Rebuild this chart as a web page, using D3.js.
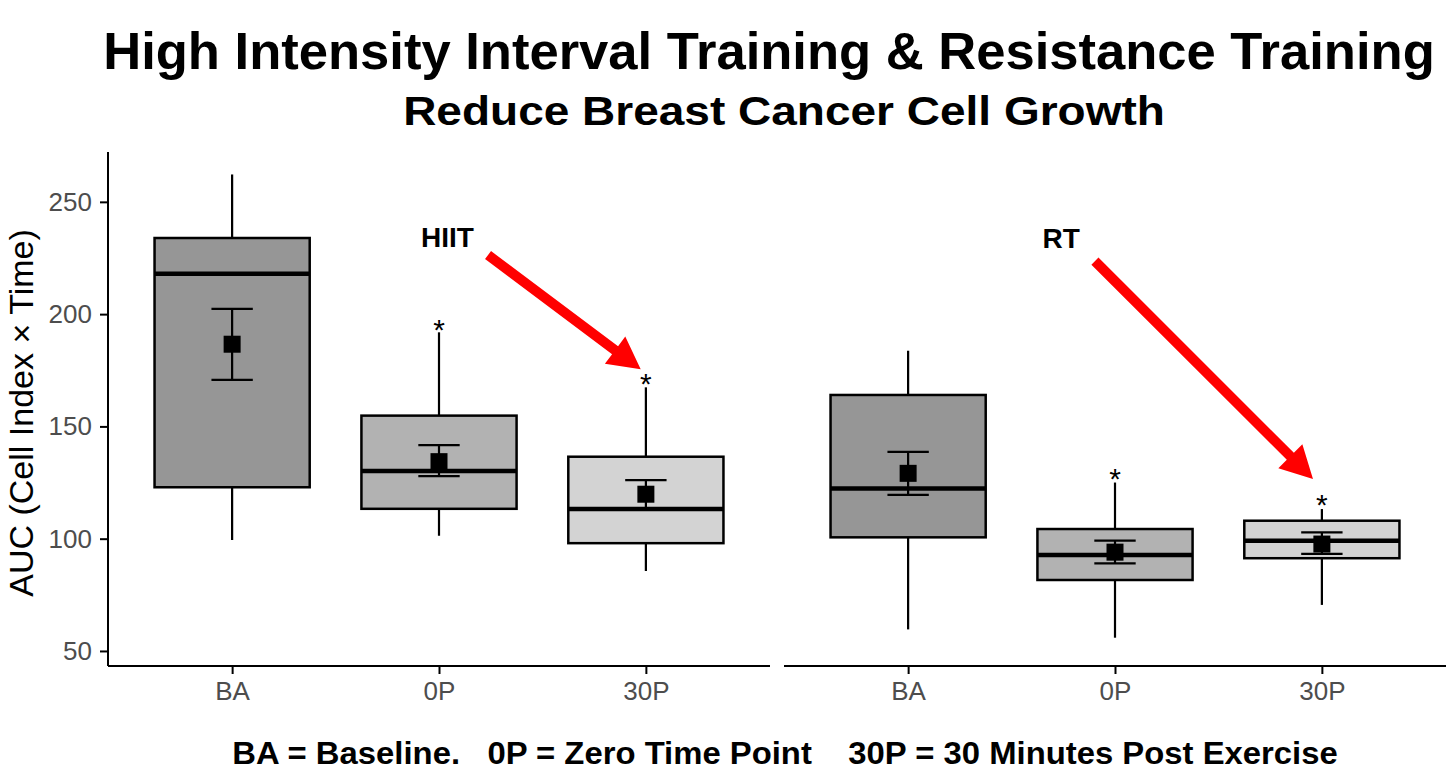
<!DOCTYPE html>
<html>
<head>
<meta charset="utf-8">
<script src="https://d3js.org/d3.v7.min.js"></script>
<style>
  body { margin: 0; background: #fff; }
  text { font-family: "Liberation Sans", Arial, Helvetica, sans-serif; }
</style>
</head>
<body>
<div id="chart"></div>
<script>
// groups (panels) and time points
var groups = ["HIIT", "RT"];
var timepoints = ["BA", "0P", "30P"];

// box plot summaries, one row per group
var whiskerLow  = [[99.4, 101.3, 85.6], [59.6, 55.9, 70.5]];
var q1          = [[122.9, 113.3, 98.0], [100.6, 81.6, 91.3]];
var median      = [[218.0, 130.1, 113.2], [122.4, 92.7, 99.1]];
var q3          = [[233.9, 154.8, 136.5], [164.0, 104.3, 108.0]];
var whiskerHigh = [[262.2, 191.9, 167.4], [183.7, 125.0, 113.2]];

// mean and error bar
var meanVal = [[186.6, 134.3, 119.8], [129.1, 94.0, 97.6]];
var errLow  = [[170.7, 127.9, 113.5], [119.5, 89.0, 93.2]];
var errHigh = [[202.3, 141.7, 126.1], [138.7, 99.1, 102.8]];

// significance stars (value where the star sits)
var starAt = [[null, 196.0, 172.0], [null, 129.7, 118.1]];

var yTicks = [50, 100, 150, 200, 250];

// annotation arrows, in category units / data values
var arrowTail = [[2.237, 226.3], [1.903, 223.6]];
var arrowTip  = [[2.975, 175.4], [2.957, 126.6]];
var labelAt   = [[1.913, 229.9], [1.650, 229.4]];

var fills = ["#969696", "#b2b2b2", "#d3d3d3"];

var W = 1456, H = 784;
var panelX = [[108, 770], [784, 1446]];
var yTop = 152, yBottom = 666;

var svg = d3.select("#chart").append("svg")
            .attr("width", W)
            .attr("height", H);

var y = d3.scaleLinear().domain([43.3, 272.2]).range([yBottom, yTop]);

// titles: keep the height of the letters, squeeze them to the width they take in the picture
function fitText(t, cx, width) {
  var w = t.node().getComputedTextLength();
  var sx = width / w;
  t.attr("transform", "translate(" + cx + ",0) scale(" + sx + ",1) translate(" + (-cx) + ",0)");
}

var t1 = svg.append("text")
  .attr("x", 769).attr("y", 69)
  .attr("text-anchor", "middle")
  .style("font-weight", "bold").style("font-size", "52px")
  .text("High Intensity Interval Training & Resistance Training");
fitText(t1, 769, 1332);

var t2 = svg.append("text")
  .attr("x", 784).attr("y", 125)
  .attr("text-anchor", "middle")
  .style("font-weight", "bold").style("font-size", "41px")
  .text("Reduce Breast Cancer Cell Growth");
fitText(t2, 784, 762);

var t3 = svg.append("text")
  .attr("x", 785).attr("y", 764)
  .attr("text-anchor", "middle")
  .style("font-weight", "bold").style("font-size", "31px")
  .style("white-space", "pre")
  .text("BA = Baseline.   0P = Zero Time Point    30P = 30 Minutes Post Exercise");
fitText(t3, 785, 1106);

// y axis title
svg.append("text")
  .attr("transform", "translate(33,413) rotate(-90)")
  .attr("text-anchor", "middle")
  .style("font-size", "34px")
  .style("fill", "#000")
  .text("AUC (Cell Index \u00d7 Time)");

// y axis (left panel only)
var yAxis = svg.append("g")
  .attr("transform", "translate(" + panelX[0][0] + ",0)")
  .call(d3.axisLeft(y).tickValues(yTicks).tickSize(8).tickPadding(8));
yAxis.select(".domain").attr("d", "M0," + yTop + "V" + yBottom)
  .attr("stroke", "#000").attr("stroke-width", 2);
yAxis.selectAll(".tick line").attr("stroke", "#000").attr("stroke-width", 2);
yAxis.selectAll(".tick text")
  .style("font-size", "26px").style("fill", "#4d4d4d")
  .attr("font-family", null);

groups.forEach(function(g, gi) {
  var x0 = panelX[gi][0], x1 = panelX[gi][1];
  var xu = d3.scaleLinear().domain([0.4, 3.6]).range([x0, x1]);
  var xp = d3.scalePoint().domain(timepoints).range([x0, x1]).padding(0.6);
  var boxW = xu(0.75) - xu(0);
  var capW = xu(0.2) - xu(0);

  var xAxis = svg.append("g")
    .attr("transform", "translate(0," + yBottom + ")")
    .call(d3.axisBottom(xp).tickSize(8).tickPadding(8));
  xAxis.select(".domain").attr("d", "M" + x0 + ",0H" + x1)
    .attr("stroke", "#000").attr("stroke-width", 2);
  xAxis.selectAll(".tick line").attr("stroke", "#000").attr("stroke-width", 2);
  xAxis.selectAll(".tick text")
    .style("font-size", "26px").style("fill", "#4d4d4d")
    .attr("font-family", null);

  var rows = timepoints.map(function(tp, i) {
    return { tp: tp, i: i, lo: whiskerLow[gi][i], q1: q1[gi][i], med: median[gi][i],
             q3: q3[gi][i], hi: whiskerHigh[gi][i], mean: meanVal[gi][i],
             eLo: errLow[gi][i], eHi: errHigh[gi][i], star: starAt[gi][i] };
  });

  var panel = svg.append("g");
  var box = panel.selectAll("g.box").data(rows).enter().append("g").attr("class", "box");

  // whiskers
  box.append("line")
    .attr("x1", function(d) { return xp(d.tp); })
    .attr("x2", function(d) { return xp(d.tp); })
    .attr("y1", function(d) { return y(d.hi); })
    .attr("y2", function(d) { return y(d.q3); })
    .attr("stroke", "#000").attr("stroke-width", 2.2);
  box.append("line")
    .attr("x1", function(d) { return xp(d.tp); })
    .attr("x2", function(d) { return xp(d.tp); })
    .attr("y1", function(d) { return y(d.q1); })
    .attr("y2", function(d) { return y(d.lo); })
    .attr("stroke", "#000").attr("stroke-width", 2.2);

  // box
  box.append("rect")
    .attr("x", function(d) { return xp(d.tp) - boxW / 2; })
    .attr("width", boxW)
    .attr("y", function(d) { return y(d.q3); })
    .attr("height", function(d) { return y(d.q1) - y(d.q3); })
    .style("fill", function(d) { return fills[d.i]; })
    .attr("stroke", "#000").attr("stroke-width", 2.5);

  // median
  box.append("line")
    .attr("x1", function(d) { return xp(d.tp) - boxW / 2; })
    .attr("x2", function(d) { return xp(d.tp) + boxW / 2; })
    .attr("y1", function(d) { return y(d.med); })
    .attr("y2", function(d) { return y(d.med); })
    .attr("stroke", "#000").attr("stroke-width", 4.5);

  // error bar
  box.append("line")
    .attr("x1", function(d) { return xp(d.tp); })
    .attr("x2", function(d) { return xp(d.tp); })
    .attr("y1", function(d) { return y(d.eHi); })
    .attr("y2", function(d) { return y(d.eLo); })
    .attr("stroke", "#000").attr("stroke-width", 2.2);
  ["eHi", "eLo"].forEach(function(k) {
    box.append("line")
      .attr("x1", function(d) { return xp(d.tp) - capW / 2; })
      .attr("x2", function(d) { return xp(d.tp) + capW / 2; })
      .attr("y1", function(d) { return y(d[k]); })
      .attr("y2", function(d) { return y(d[k]); })
      .attr("stroke", "#000").attr("stroke-width", 2.2);
  });

  // mean square
  box.append("rect")
    .attr("x", function(d) { return xp(d.tp) - 8.5; })
    .attr("y", function(d) { return y(d.mean) - 8.5; })
    .attr("width", 17).attr("height", 17)
    .style("fill", "#000");

  // stars
  box.filter(function(d) { return d.star != null; })
    .append("text")
    .attr("x", function(d) { return xp(d.tp); })
    .attr("y", function(d) { return y(d.star) + 17; })
    .attr("text-anchor", "middle")
    .style("font-size", "30px")
    .text("*");

  // arrow
  var ax0 = xu(arrowTail[gi][0]), ay0 = y(arrowTail[gi][1]);
  var ax1 = xu(arrowTip[gi][0]), ay1 = y(arrowTip[gi][1]);
  var dx = ax1 - ax0, dy = ay1 - ay0, len = Math.sqrt(dx * dx + dy * dy);
  var ux = dx / len, uy = dy / len, nx = -uy, ny = ux;
  var headL = 32, headW = 17, shaftW = 5;
  var bx = ax1 - ux * headL, by = ay1 - uy * headL;
  var pts = [
    [ax0 + nx * shaftW, ay0 + ny * shaftW],
    [bx + nx * shaftW, by + ny * shaftW],
    [bx + nx * headW, by + ny * headW],
    [ax1, ay1],
    [bx - nx * headW, by - ny * headW],
    [bx - nx * shaftW, by - ny * shaftW],
    [ax0 - nx * shaftW, ay0 - ny * shaftW]
  ];
  panel.append("polygon")
    .attr("points", pts.map(function(p) { return p.join(","); }).join(" "))
    .style("fill", "#ff0000");

  panel.append("text")
    .attr("x", xu(labelAt[gi][0]))
    .attr("y", y(labelAt[gi][1]))
    .style("font-weight", "bold").style("font-size", "28px")
    .text(g);
});
</script>
</body>
</html>
